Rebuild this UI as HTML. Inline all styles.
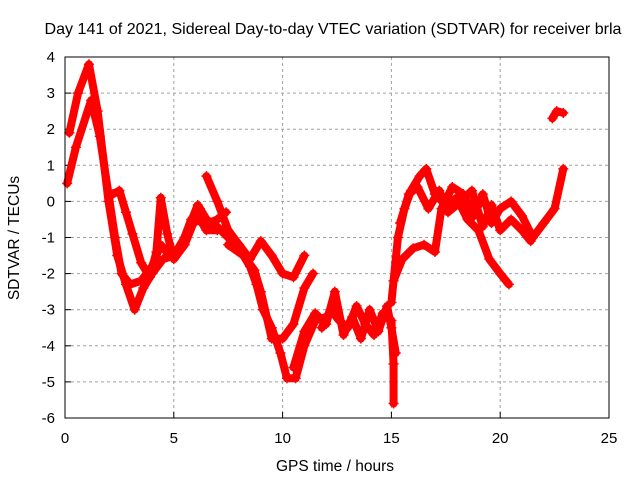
<!DOCTYPE html>
<html><head><meta charset="utf-8"><style>
body{margin:0;background:#fff}svg{display:block;font-family:"Liberation Sans",sans-serif}
</style></head><body>
<svg id="c" width="640" height="480">
<text x="333" y="34" text-anchor="middle" font-size="16" textLength="577" lengthAdjust="spacingAndGlyphs">Day 141 of 2021, Sidereal Day-to-day VTEC variation (SDTVAR) for receiver brla</text>
<text x="335" y="471" text-anchor="middle" font-size="15.5">GPS time / hours</text>
<text transform="translate(19,238) rotate(-90)" text-anchor="middle" font-size="15.5">SDTVAR / TECUs</text>
<g id="grid"></g><g id="series"></g>
<rect x="65" y="57" width="544" height="361" fill="none" stroke="#000" stroke-width="1"/>
</svg>
<script>
const xTicks=[0,5,10,15,20,25];
const yTicks=[4,3,2,1,0,-1,-2,-3,-4,-5,-6];
const traceA=[[0.2,1.9],[0.6,3.0],[1.1,3.8],[1.5,2.5],[2.0,0.0],[2.4,-1.5],[2.8,-2.3],[3.2,-3.0],[3.6,-2.4],[4.0,-2.0],[4.5,-1.6],[5.0,-1.5],[5.5,-1.0],[6.1,-0.1],[6.5,-0.5],[7.0,-0.7],[7.5,-1.0],[8.0,-1.3],[8.5,-1.8],[8.8,-2.3],[9.1,-3.0],[9.5,-3.5],[9.9,-4.2],[10.2,-4.9],[10.6,-4.9],[11.0,-4.0],[11.5,-3.3],[12.0,-3.2]];
const traceB=[[0.1,0.5],[0.5,1.5],[1.2,2.8],[1.6,1.8],[2.0,0.2],[2.3,-1.0],[2.6,-2.0],[3.0,-2.3],[3.5,-2.2],[4.0,-1.8],[4.4,-1.2],[4.8,-1.5],[5.3,-1.3],[5.8,-0.5],[6.2,-0.2],[6.6,-0.6],[7.0,-0.5],[7.4,-0.3]];
const traceC=[[2.2,0.2],[2.5,0.3],[2.8,-0.3],[3.1,-0.9],[3.5,-1.7],[3.9,-2.1],[4.2,-1.4],[4.4,0.1],[4.7,-0.9],[5.0,-1.6],[5.5,-1.2],[5.9,-0.6],[6.2,-0.5],[6.5,-0.8],[7.0,-0.8]];
const traceD=[[6.5,0.7],[7.0,0.0],[7.5,-0.8],[8.0,-1.2],[8.5,-1.6],[9.0,-1.1],[9.5,-1.5],[10.0,-2.0],[10.5,-2.1],[11.0,-1.5]];
const traceE=[[7.5,-1.2],[8.2,-1.5],[8.7,-1.9],[9.0,-2.5],[9.5,-3.8],[10.0,-3.8],[10.5,-3.4],[11.0,-2.4],[11.4,-2.0]];
const traceF=[[10.5,-4.6],[11.0,-3.6],[11.5,-3.1],[12.0,-3.4],[12.4,-2.5],[12.8,-3.7],[13.2,-3.2],[13.6,-3.8],[14.0,-3.0],[14.4,-3.6],[14.8,-2.9],[15.0,-3.5],[15.2,-4.2]];
const traceG=[[11.8,-3.5],[12.2,-3.0],[12.6,-3.3],[13.0,-3.5],[13.4,-2.9],[13.8,-3.4],[14.2,-3.7],[14.6,-3.1],[15.0,-3.3],[15.1,-4.5],[15.1,-5.6]];
const traceH=[[15.0,-2.8],[15.3,-1.0],[15.6,-0.2],[15.9,0.3],[16.3,0.7],[16.6,0.9],[17.0,0.2],[17.5,-0.1],[18.0,0.1],[18.5,-0.5],[19.0,-0.8],[19.5,-1.6],[20.0,-2.0],[20.4,-2.3]];
const traceI=[[15.1,-2.2],[15.5,-1.6],[16.0,-1.3],[16.5,-1.2],[17.0,-1.4],[17.3,-0.2],[17.8,0.4],[18.3,0.2],[18.8,-0.4],[19.2,0.2],[19.6,-0.6],[20.0,-0.2],[20.5,0.0],[21.0,-0.4],[21.5,-1.0],[22.0,-0.6],[22.5,-0.2],[22.9,0.9]];
const traceJ=[[15.4,-0.6],[15.8,0.2],[16.2,0.4],[16.7,-0.2],[17.2,0.3],[17.6,-0.3],[18.2,0.0],[18.7,0.3],[19.2,-0.7],[19.6,-0.1],[20.0,-0.8],[20.5,-0.5],[21.0,-0.8],[21.4,-1.1]];
const traceK=[[22.4,2.3],[22.6,2.5],[22.9,2.45]];
const traces=[traceA,traceB,traceC,traceD,traceE,traceF,traceG,traceH,traceI,traceJ,traceK];
const X=t=>65+t*544/25, Y=v=>57+(4-v)*361/10;
const NS="http://www.w3.org/2000/svg";
const svg=document.getElementById('c'),grid=document.getElementById('grid'),ser=document.getElementById('series');
function mk(tag,at,p){const e=document.createElementNS(NS,tag);for(const k in at)e.setAttribute(k,at[k]);p.appendChild(e);return e;}
xTicks.forEach(t=>{
 if(t>0&&t<25){const g=mk('line',{x1:X(t),x2:X(t),y1:57,y2:418,stroke:'#a0a0a0','stroke-dasharray':'3,3'},grid);
 
 }
 mk('line',{x1:X(t),x2:X(t),y1:418,y2:412,stroke:'#000'},grid);
 const l=mk('text',{x:X(t),y:443,'text-anchor':'middle','font-size':15},grid);l.textContent=t;
 
 
});
yTicks.forEach(v=>{
 if(v<4&&v>-6){const g=mk('line',{x1:65,x2:609,y1:Y(v),y2:Y(v),stroke:'#a0a0a0','stroke-dasharray':'3,3'},grid);
 
 }
 mk('line',{x1:65,x2:71,y1:Y(v),y2:Y(v),stroke:'#000'},grid);
 const l=mk('text',{x:55,y:Y(v)+5,'text-anchor':'end','font-size':15},grid);l.textContent=v;
 
 
});
traces.forEach((tr,i)=>{
 const pl=mk('polyline',{points:tr.map(p=>X(p[0])+','+Y(p[1])).join(' '),fill:'none',stroke:'#f00','stroke-width':8,'stroke-linejoin':'round','stroke-linecap':'round'},ser);
 
 
 tr.forEach(p=>{const x=X(p[0]),y=Y(p[1]);
  const m=mk('path',{d:`M${x-5},${y}H${x+5}M${x},${y-5}V${y+5}`,stroke:'#f00','stroke-width':1.5},ser);
  
  });
});
</script>
</body></html>
